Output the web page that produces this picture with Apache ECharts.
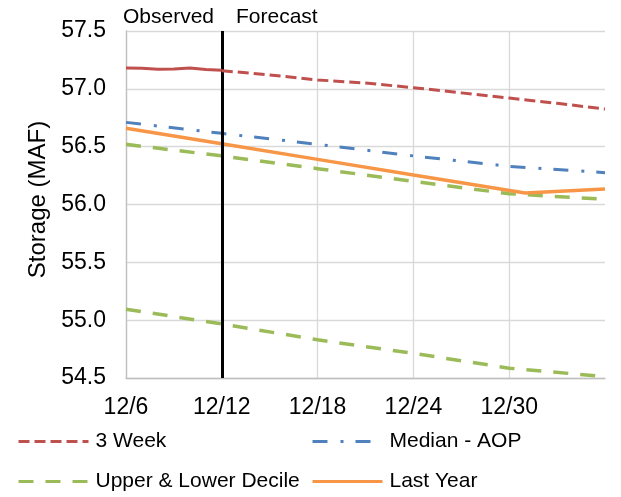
<!DOCTYPE html>
<html>
<head>
<meta charset="utf-8">
<script src="https://cdn.jsdelivr.net/npm/echarts@6/dist/echarts.min.js"></script>
<style>
  html, body { margin: 0; padding: 0; background: #fff; }
  #chart { width: 621px; height: 497px; }
</style>
</head>
<body>
<div id="chart"></div>
<script>
var days = ['12/6','12/7','12/8','12/9','12/10','12/11','12/12','12/13','12/14','12/15',
  '12/16','12/17','12/18','12/19','12/20','12/21','12/22','12/23','12/24','12/25',
  '12/26','12/27','12/28','12/29','12/30','12/31','1/1','1/2','1/3','1/4','1/5'];

// 3 week study, observed part (solid) and forecast part (dotted)
var obsDates = ['12/6','12/7','12/8','12/9','12/10','12/11','12/12'];
var obsVals = [57.18, 57.178, 57.17, 57.172, 57.18, 57.168, 57.16];
var weekDates = ['12/12','12/15','12/18','12/21','12/24','12/27','12/30','1/2','1/5'];
var weekVals = [57.157, 57.12, 57.077, 57.05, 57.01, 56.965, 56.92, 56.875, 56.825];

var medDates = ['12/6','12/12','12/18','12/24','12/30','1/5'];
var medVals = [56.71, 56.615, 56.52, 56.42, 56.33, 56.275];

var lastDates = ['12/6','12/12','12/18','12/24','12/31','1/5'];
var lastVals = [56.66, 56.525, 56.39, 56.255, 56.10, 56.135];

var decDates = ['12/6','12/12','12/18','12/24','12/30','1/5'];
var upperVals = [56.52, 56.42, 56.31, 56.20, 56.093, 56.045];
var lowerVals = [55.095, 54.967, 54.83, 54.713, 54.585, 54.512];

var yTicks = [54.5, 55.0, 55.5, 56.0, 56.5, 57.0, 57.5];

var pair = function (d, v) {
  return d.map(function (x, i) { return [x, v[i]]; });
};
var font = 'Liberation Sans, Arial, sans-serif';
var showTick = function (i) { return i % 6 === 0 && i < 30; };

var chart = echarts.init(document.getElementById('chart'));
var legendBase = function (name, left, top) {
  return {
    data: [name], left: left, top: top, itemWidth: 70, itemHeight: 14, itemGap: 0,
    padding: 0,
    itemStyle: { opacity: 0 },
    lineStyle: { width: 3 },
    textStyle: { fontSize: 21, color: '#000', fontFamily: font, padding: [0, 0, 0, 2] },
    selectedMode: false
  };
};

var option = {
  animation: false,
  backgroundColor: '#fff',
  grid: { left: 126, right: 16, top: 31, bottom: 119, outerBoundsMode: 'none' },
  legend: [
    legendBase('3 Week', 17, 431),
    legendBase('Median - AOP', 311, 431),
    legendBase('Upper & Lower Decile', 17, 471),
    legendBase('Last Year', 311, 471)
  ],
  graphic: [
    { type: 'text', left: 123, top: 7, style: { text: 'Observed', font: '21px ' + font, fill: '#000' } },
    { type: 'text', left: 236, top: 7, style: { text: 'Forecast', font: '21px ' + font, fill: '#000' } }
  ],
  xAxis: {
    type: 'category',
    data: days,
    boundaryGap: false,
    axisLine: { lineStyle: { color: '#bfbfbf', width: 1.3 } },
    axisTick: { show: false },
    axisLabel: { interval: showTick, fontSize: 23, color: '#000', fontFamily: font, margin: 18 },
    splitLine: { show: true, interval: showTick, lineStyle: { color: '#d9d9d9', width: 1.3 } }
  },
  yAxis: {
    type: 'value',
    min: yTicks[0],
    max: yTicks[yTicks.length - 1],
    interval: 0.5,
    name: 'Storage (MAF)',
    nameLocation: 'middle',
    nameGap: 76,
    nameTextStyle: { fontSize: 24, color: '#000', fontFamily: font, padding: [0, 0, 0, 10] },
    axisLine: { show: true, lineStyle: { color: '#bfbfbf', width: 1.3 } },
    axisTick: { show: false },
    axisLabel: {
      fontSize: 23, color: '#000', fontFamily: font, margin: 20,
      formatter: function (v) { return v.toFixed(1); }
    },
    splitLine: { lineStyle: { color: '#d9d9d9', width: 1.3 } }
  },
  series: [
    {
      name: '3 Week', type: 'line', symbol: 'none', data: pair(weekDates, weekVals),
      lineStyle: { color: '#C0504D', width: 3, type: [11, 5] }, itemStyle: { color: '#C0504D' }, z: 5
    },
    {
      name: '3 Week Observed', type: 'line', symbol: 'none', data: pair(obsDates, obsVals),
      lineStyle: { color: '#C0504D', width: 3 }, itemStyle: { color: '#C0504D' }, z: 5,
      markLine: {
        silent: true, symbol: 'none', label: { show: false },
        lineStyle: { color: '#000', width: 3, type: 'solid' },
        data: [{ xAxis: '12/12' }]
      }
    },
    {
      name: 'Median - AOP', type: 'line', symbol: 'none', data: pair(medDates, medVals),
      lineStyle: { color: '#4F81BD', width: 3, type: [15, 13, 3, 12] }, itemStyle: { color: '#4F81BD' }
    },
    {
      name: 'Upper & Lower Decile', type: 'line', symbol: 'none', data: pair(decDates, upperVals),
      lineStyle: { color: '#9BBB59', width: 3.5, type: [15, 12] }, itemStyle: { color: '#9BBB59' }
    },
    {
      name: 'Upper & Lower Decile', type: 'line', symbol: 'none', data: pair(decDates, lowerVals),
      lineStyle: { color: '#9BBB59', width: 3.5, type: [15, 12] }, itemStyle: { color: '#9BBB59' }
    },
    {
      name: 'Last Year', type: 'line', symbol: 'none', data: pair(lastDates, lastVals),
      lineStyle: { color: '#F79646', width: 3.5 }, itemStyle: { color: '#F79646' }
    }
  ]
};
chart.setOption(option);
</script>
</body>
</html>
